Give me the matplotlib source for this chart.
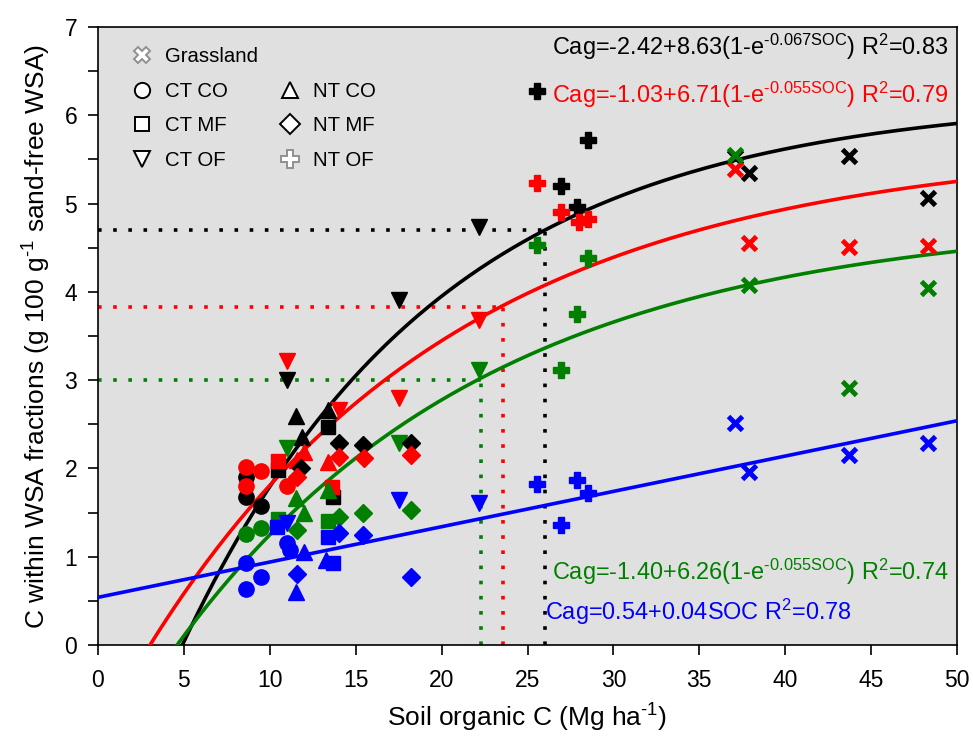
import numpy as np
import matplotlib
matplotlib.use("Agg")
import matplotlib.pyplot as plt
from matplotlib.lines import Line2D

plt.rcParams['font.family'] = ['Liberation Sans', 'DejaVu Sans']
plt.rcParams['mathtext.fontset'] = 'custom'
plt.rcParams['mathtext.rm'] = 'Liberation Sans'
plt.rcParams['mathtext.it'] = 'Liberation Sans'

colors = {"black": "black", "red": "#ff0000", "green": "#007f00", "blue": "#0000ff"}

# fitted model coefficients (a + b(1-exp(-k SOC)))
fit_black = (-2.42, 8.63, 0.067)
fit_red = (-1.03, 6.71, 0.055)
fit_green = (-1.40, 6.26, 0.055)
fit_blue = (0.54, 0.04)  # linear

# reference dotted lines: (SOC, Cag)
ref_black = (26.0, 4.70)
ref_red = (23.6, 3.83)
ref_green = (22.3, 3.00)

# observations by treatment, per colour: (x list, y list)
grassland = {
    "black": ([37.1, 37.9, 43.7, 48.3], [5.53, 5.35, 5.54, 5.06]),
    "red": ([37.1, 37.9, 43.7, 48.3], [5.39, 4.55, 4.51, 4.52]),
    "green": ([37.1, 37.9, 43.7, 48.3], [5.55, 4.08, 2.91, 4.04]),
    "blue": ([37.1, 37.9, 43.7, 48.3], [2.51, 1.96, 2.15, 2.29]),
}
nt_of = {
    "black": ([25.55, 28.5, 26.95, 27.9], [6.27, 5.72, 5.20, 4.96]),
    "red": ([25.55, 26.95, 28.0, 28.5], [5.23, 4.90, 4.79, 4.82]),
    "green": ([25.55, 28.5, 27.9, 26.95], [4.53, 4.38, 3.75, 3.11]),
    "blue": ([25.55, 27.9, 28.5, 26.95], [1.82, 1.87, 1.72, 1.36]),
}
ct_of = {
    "black": ([11.0, 17.5, 22.2], [3.00, 3.91, 4.73]),
    "red": ([11.0, 14.0, 17.5, 22.2], [3.22, 2.66, 2.80, 3.68]),
    "green": ([11.0, 17.5, 22.2], [2.23, 2.29, 3.12]),
    "blue": ([11.0, 17.5, 22.2], [1.38, 1.64, 1.61]),
}
ct_co = {
    "black": ([8.6, 8.6, 9.5], [1.90, 1.68, 1.57]),
    "red": ([8.6, 8.6, 9.5, 11.0], [2.02, 1.80, 1.97, 1.80]),
    "green": ([8.6, 9.5], [1.26, 1.33]),
    "blue": ([8.6, 9.5, 8.6, 11.0, 11.2], [0.93, 0.77, 0.64, 1.15, 1.08]),
}
ct_mf = {
    "black": ([10.5, 13.4, 13.7], [1.98, 2.47, 1.68]),
    "red": ([10.5, 13.6], [2.08, 1.79]),
    "green": ([10.5, 13.4], [1.43, 1.41]),
    "blue": ([10.4, 13.4, 13.7], [1.34, 1.22, 0.93]),
}
nt_co = {
    "black": ([11.5, 11.9, 13.4], [2.59, 2.36, 2.66]),
    "red": ([12.0, 13.4, 11.6], [2.19, 2.07, 2.10]),
    "green": ([11.5, 12.0, 13.4], [1.66, 1.50, 1.76]),
    "blue": ([11.5, 12.0, 13.3], [0.60, 1.05, 0.96]),
}
nt_mf = {
    "black": ([11.8, 14.0, 15.4, 18.2], [2.01, 2.29, 2.26, 2.29]),
    "red": ([11.6, 14.0, 15.5, 18.2], [1.90, 2.13, 2.12, 2.15]),
    "green": ([11.6, 14.0, 15.4, 18.2], [1.30, 1.45, 1.49, 1.53]),
    "blue": ([11.6, 14.0, 15.4, 18.2], [0.81, 1.27, 1.25, 0.77]),
}

hy = "\u2010"  # plain hyphen look in superscripts
eq_black = r"Cag=-2.42+8.63(1-e$^{\mathregular{" + hy + r"0.067SOC}}$) R$^{\mathregular{2}}$=0.83"
eq_red = r"Cag=-1.03+6.71(1-e$^{\mathregular{" + hy + r"0.055SOC}}$) R$^{\mathregular{2}}$=0.79"
eq_green = r"Cag=-1.40+6.26(1-e$^{\mathregular{" + hy + r"0.055SOC}}$) R$^{\mathregular{2}}$=0.74"
eq_blue = r"Cag=0.54+0.04SOC R$^{\mathregular{2}}$=0.78"

fig = plt.figure(figsize=(9.73, 7.37), dpi=100)
ax = fig.add_axes([0.1007, 0.1248, 0.8829, 0.8386])
ax.set_facecolor("#e0e0e0")

# dotted reference lines
for (rx, ry), c in [(ref_black, "black"), (ref_red, "red"), (ref_green, "green")]:
    ax.plot([0, rx], [ry, ry], color=colors[c], ls=(0, (1, 3.2)), lw=2.6, zorder=2)
    ax.plot([rx, rx], [0, ry], color=colors[c], ls=(0, (1, 3.2)), lw=2.6, zorder=2)

# fitted curves
for (a, b, k), c in [(fit_black, "black"), (fit_red, "red"), (fit_green, "green")]:
    x0 = -np.log(1 + a / b) / k
    xs = np.linspace(x0, 50, 300)
    ax.plot(xs, a + b * (1 - np.exp(-k * xs)), color=colors[c], lw=2.6, zorder=3)
xs = np.linspace(0, 50, 10)
ax.plot(xs, fit_blue[0] + fit_blue[1] * xs, color=colors["blue"], lw=2.6, zorder=3)

# points
styles = [
    (ct_co, dict(marker="o", ms=11)),
    (ct_mf, dict(marker="s", ms=10)),
    (ct_of, dict(marker="v", ms=11)),
    (nt_co, dict(marker="^", ms=11)),
    (nt_mf, dict(marker="D", ms=9)),
    (nt_of, dict(marker="P", ms=12)),
]
for data, st in styles:
    for c, (xv, yv) in data.items():
        ax.plot(xv, yv, ls="none", color=colors[c], mec=colors[c], zorder=4, **st)
for c, (xv, yv) in grassland.items():
    ax.plot(xv, yv, ls="none", marker="x", ms=10, mew=3.5, color=colors[c], zorder=4)

# equations
fs_eq = 16.9
ax.text(26.4, 6.77, eq_black, color="black", fontsize=fs_eq, va="center", ha="left")
ax.text(26.4, 6.23, eq_red, color=colors["red"], fontsize=fs_eq, va="center", ha="left")
ax.text(26.4, 0.83, eq_green, color=colors["green"], fontsize=fs_eq, va="center", ha="left")
ax.text(26.0, 0.37, eq_blue, color=colors["blue"], fontsize=fs_eq, va="center", ha="left")

# legend
def h(marker, ms, ec="black"):
    return Line2D([], [], ls="none", marker=marker, ms=ms, mfc="white", mec=ec, mew=1.4)

handles = [h("X", 12, "#909090"), h("o", 11), h("s", 10), h("v", 11),
           Line2D([], [], ls="none"), h("^", 11), h("D", 10), h("P", 13, "#909090")]
labels = ["Grassland", "CT CO", "CT MF", "CT OF", "", "NT CO", "NT MF", "NT OF"]
ax.legend(handles, labels, ncol=2, frameon=False, fontsize=14.7, loc="upper left",
          bbox_to_anchor=(0.011, 0.99), handletextpad=0.1, columnspacing=0.6,
          labelspacing=0.76, handlelength=2.0, borderaxespad=0.3)

ax.set_xlim(0, 50)
ax.set_ylim(0, 7)
ax.set_xticks(np.arange(0, 51, 5))
ax.set_yticks(np.arange(0, 8, 1))
ax.set_yticks(np.arange(0, 7.01, 0.5), minor=True)
ax.tick_params(which="both", direction="out", labelsize=16.5, width=1.2)
ax.tick_params(which="major", length=7)
ax.tick_params(which="minor", length=7)
ax.tick_params(axis="x", pad=10)
ax.tick_params(axis="y", pad=8)
for s in ax.spines.values():
    s.set_linewidth(1.2)

ax.set_xlabel(r"Soil organic C (Mg ha$^{\mathregular{" + hy + r"1}}$)", fontsize=19, labelpad=7)
ax.set_ylabel(r"C within WSA fractions (g 100 g$^{\mathregular{" + hy + r"1}}$ sand-free WSA)",
              fontsize=19, labelpad=8)

fig.savefig("out.png", dpi=100)
